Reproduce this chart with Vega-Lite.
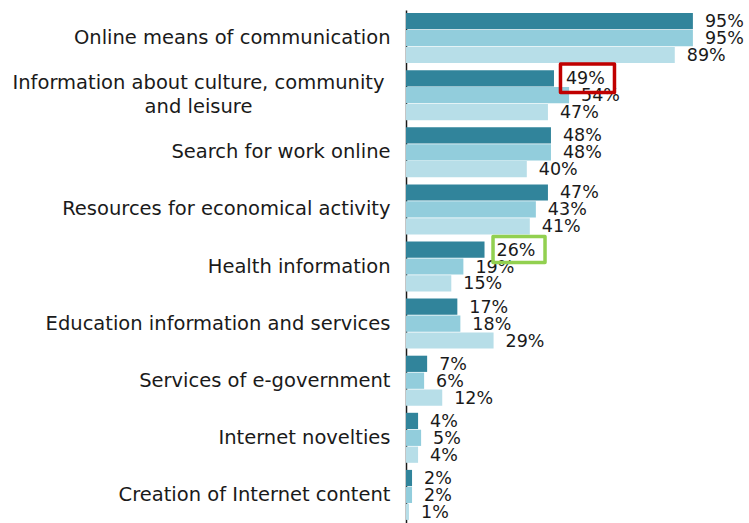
{
  "$schema": "https://vega.github.io/schema/vega-lite/v6.json",
  "width": 302,
  "height": 513,
  "autosize": {"type": "none"},
  "padding": {"left": 406, "top": 10, "right": 41, "bottom": 0},
  "background": "white",
  "config": {"view": {"stroke": null}, "font": "DejaVu Sans"},
  "data": {
    "values": [
      {"category": "Online means of communication", "series": "Series 1", "value": 95},
      {"category": "Online means of communication", "series": "Series 2", "value": 95},
      {"category": "Online means of communication", "series": "Series 3", "value": 89},
      {"category": "Information about culture, community and leisure", "series": "Series 1", "value": 49},
      {"category": "Information about culture, community and leisure", "series": "Series 2", "value": 54},
      {"category": "Information about culture, community and leisure", "series": "Series 3", "value": 47},
      {"category": "Search for work online", "series": "Series 1", "value": 48},
      {"category": "Search for work online", "series": "Series 2", "value": 48},
      {"category": "Search for work online", "series": "Series 3", "value": 40},
      {"category": "Resources for economical activity", "series": "Series 1", "value": 47},
      {"category": "Resources for economical activity", "series": "Series 2", "value": 43},
      {"category": "Resources for economical activity", "series": "Series 3", "value": 41},
      {"category": "Health information", "series": "Series 1", "value": 26},
      {"category": "Health information", "series": "Series 2", "value": 19},
      {"category": "Health information", "series": "Series 3", "value": 15},
      {"category": "Education information and services", "series": "Series 1", "value": 17},
      {"category": "Education information and services", "series": "Series 2", "value": 18},
      {"category": "Education information and services", "series": "Series 3", "value": 29},
      {"category": "Services of e-government", "series": "Series 1", "value": 7},
      {"category": "Services of e-government", "series": "Series 2", "value": 6},
      {"category": "Services of e-government", "series": "Series 3", "value": 12},
      {"category": "Internet novelties", "series": "Series 1", "value": 4},
      {"category": "Internet novelties", "series": "Series 2", "value": 5},
      {"category": "Internet novelties", "series": "Series 3", "value": 4},
      {"category": "Creation of Internet content", "series": "Series 1", "value": 2},
      {"category": "Creation of Internet content", "series": "Series 2", "value": 2},
      {"category": "Creation of Internet content", "series": "Series 3", "value": 1}
    ]
  },
  "transform": [{"calculate": "datum.value + '%'", "as": "label"}],
  "encoding": {
    "y": {
      "field": "category",
      "type": "nominal",
      "sort": null,
      "scale": {"paddingInner": 0.124, "paddingOuter": 0.054},
      "axis": {
        "title": null,
        "domain": true,
        "domainColor": "#1a1a1a",
        "domainWidth": 1.5,
        "ticks": false,
        "grid": false,
        "labelFont": "DejaVu Sans",
        "labelFontSize": 19.5,
        "labelColor": "#1a1a1a",
        "labelLimit": 600,
        "labelLineHeight": 24,
        "labelBaseline": "middle",
        "labelExpr": "datum.value == 'Information about culture, community and leisure' ? ['Information about culture, community', 'and leisure'] : datum.value",
        "labelAlign": {"condition": {"test": "datum.value == 'Information about culture, community and leisure'", "value": "center"}, "value": "right"},
        "labelPadding": {"condition": {"test": "datum.value == 'Information about culture, community and leisure'", "value": 208}, "value": 16},
        "labelOffset": {"condition": {"test": "datum.value == 'Information about culture, community and leisure'", "value": -12}, "value": 0}
      }
    },
    "yOffset": {"field": "series", "type": "nominal", "sort": null, "scale": {"paddingInner": 0.04}}
  },
  "layer": [
    {
      "mark": {"type": "bar"},
      "encoding": {
        "x": {"field": "value", "type": "quantitative", "scale": {"domain": [0, 100]}, "axis": null},
        "color": {
          "field": "series",
          "type": "nominal",
          "sort": null,
          "scale": {"domain": ["Series 1", "Series 2", "Series 3"], "range": ["#31849B", "#92CDDC", "#B7DEE8"]},
          "legend": null
        }
      }
    },
    {
      "mark": {"type": "text", "align": "left", "baseline": "middle", "dx": 12, "dy": 1, "fontSize": 17.5, "font": "DejaVu Sans", "color": "#1a1a1a"},
      "encoding": {
        "x": {"field": "value", "type": "quantitative"},
        "text": {"field": "label", "type": "nominal"}
      }
    },
    {
      "transform": [{"filter": "datum.category == 'Information about culture, community and leisure' && datum.series == 'Series 1'"}],
      "mark": {"type": "point", "shape": "M-1,-0.53H1V0.53H-1Z", "size": 2916, "filled": false, "stroke": "#C00000", "strokeWidth": 3.5, "opacity": 1, "strokeJoin": "round", "xOffset": 33.5},
      "encoding": {"x": {"field": "value", "type": "quantitative"}}
    },
    {
      "transform": [{"filter": "datum.category == 'Health information' && datum.series == 'Series 1'"}],
      "mark": {"type": "point", "shape": "M-1,-0.5H1V0.5H-1Z", "size": 2704, "filled": false, "stroke": "#92D050", "strokeWidth": 3.5, "opacity": 1, "strokeJoin": "round", "xOffset": 34.5},
      "encoding": {"x": {"field": "value", "type": "quantitative"}}
    }
  ]
}
